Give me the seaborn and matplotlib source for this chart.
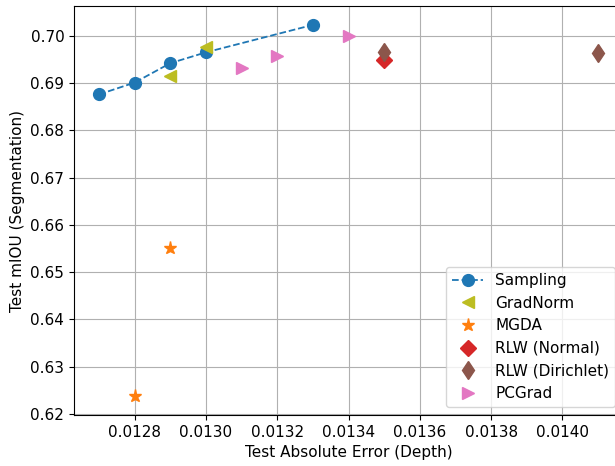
import matplotlib
matplotlib.use("Agg")
import matplotlib.pyplot as plt
import seaborn as sns

# Sampling sweep
sampling_x = [0.0127, 0.0128, 0.0129, 0.0130, 0.0133]
sampling_y = [0.6876, 0.6901, 0.6942, 0.6965, 0.7023]

# Baseline methods
gradnorm_x = [0.0129, 0.0130]
gradnorm_y = [0.6916, 0.6976]

mgda_x = [0.0128, 0.0129]
mgda_y = [0.6238, 0.6551]

rlw_normal_x = [0.0135]
rlw_normal_y = [0.6949]

rlw_dirichlet_x = [0.0135, 0.0141]
rlw_dirichlet_y = [0.6965, 0.6963]

pcgrad_x = [0.0131, 0.0132, 0.0134]
pcgrad_y = [0.6932, 0.6958, 0.6999]

x_ticks = [0.0128, 0.0130, 0.0132, 0.0134, 0.0136, 0.0138, 0.0140]
y_ticks = [0.62, 0.63, 0.64, 0.65, 0.66, 0.67, 0.68, 0.69, 0.70]

plt.rcParams.update({
    "font.family": ["DejaVu Sans"],
    "font.size": 11,
})

fig = plt.figure(figsize=(6.15, 4.66), dpi=100)
ax = fig.add_axes([74 / 615, 51 / 466, 549 / 615, 409 / 466])

pal = sns.color_palette("tab10")
blue, orange, red, brown, pink, olive = pal[0], pal[1], pal[3], pal[5], pal[6], pal[8]

sns.lineplot(x=sampling_x, y=sampling_y, ax=ax, color=blue, linestyle="--",
             marker="o", markersize=8.5, markeredgecolor=blue, markeredgewidth=1,
             linewidth=1.3, estimator=None, label="Sampling")

series = [
    (gradnorm_x, gradnorm_y, "<", olive, 9, "GradNorm"),
    (mgda_x, mgda_y, "*", orange, 9.5, "MGDA"),
    (rlw_normal_x, rlw_normal_y, "D", red, 8.5, "RLW (Normal)"),
    (rlw_dirichlet_x, rlw_dirichlet_y, "d", brown, 9.5, "RLW (Dirichlet)"),
    (pcgrad_x, pcgrad_y, ">", pink, 9, "PCGrad"),
]
for xs, ys, mk, col, ms, lab in series:
    sns.lineplot(x=xs, y=ys, ax=ax, color=col, linestyle="", marker=mk,
                 markersize=ms, markeredgecolor=col, markeredgewidth=1,
                 estimator=None, label=lab)

ax.set_xticks(x_ticks)
ax.set_yticks(y_ticks)
ax.set_xticklabels([f"{v:.4f}" for v in x_ticks])
ax.set_yticklabels([f"{v:.2f}" for v in y_ticks])
ax.set_xlim(0.01263, 0.01417)
ax.set_ylim(0.6198, 0.7063)
ax.grid(True, color="#b0b0b0", linewidth=0.8)
ax.set_axisbelow(True)
ax.set_xlabel("Test Absolute Error (Depth)")
ax.set_ylabel("Test mIOU (Segmentation)")
ax.legend(loc="lower right", borderaxespad=0.5)

fig.savefig("out.png", dpi=100)
